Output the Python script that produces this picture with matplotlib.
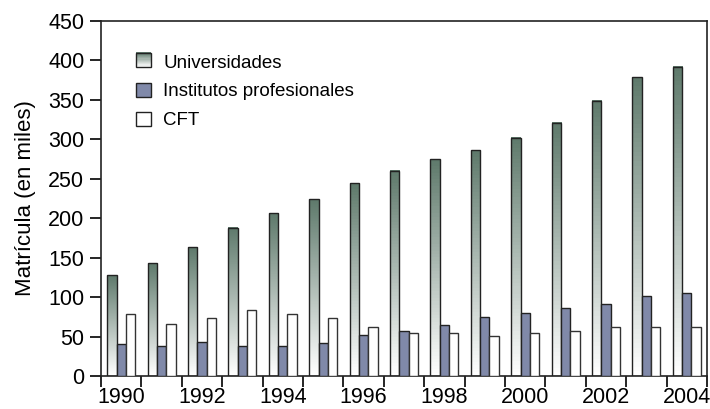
import numpy as np
import matplotlib
matplotlib.use("Agg")
import matplotlib.pyplot as plt
from matplotlib.colors import LinearSegmentedColormap
from matplotlib.patches import Rectangle
from matplotlib.legend_handler import HandlerBase

years = list(range(1990, 2005))
universidades = [128, 143, 163, 188, 206, 224, 244, 260, 275, 286, 302, 321, 349, 379, 392]
institutos = [40, 38, 43, 38, 38, 42, 52, 57, 65, 75, 80, 86, 91, 102, 105]
cft = [78, 66, 74, 84, 78, 73, 62, 54, 54, 51, 54, 57, 62, 62, 62]
series_names = ["Universidades", "Institutos profesionales", "CFT"]

plt.rcParams["font.family"] = ["Liberation Sans", "DejaVu Sans"]

UNI_TOP = "#5f7a6c"
INST_COL = "#8089a9"
EDGE = "#222222"
grad = LinearSegmentedColormap.from_list("uni", ["#ffffff", UNI_TOP])


class GradientHandler(HandlerBase):
    # legend swatch: stacked strips from dark (top) to white (bottom)
    def create_artists(self, legend, orig, xd, yd, w, h, fontsize, trans):
        arts = []
        n = 12
        for i in range(n):
            c = grad((i + 0.5) / n)
            arts.append(Rectangle((xd, yd + h * i / n), w, h / n + 0.3,
                                  facecolor=c, edgecolor="none", transform=trans))
        arts.append(Rectangle((xd, yd), w, h, facecolor="none",
                              edgecolor=EDGE, lw=1, transform=trans))
        return arts


fig = plt.figure(figsize=(7.10, 4.09), dpi=100)
ax = fig.add_axes([0.1423, 0.0807, 0.8535, 0.868])

x = np.arange(len(years))
w = 0.23

# universidades: per-bar vertical gradient
for xi, v in zip(x - w, universidades):
    img = np.linspace(0, 1, 64).reshape(-1, 1)
    ax.imshow(img, cmap=grad, origin="lower", aspect="auto",
              extent=(xi - w / 2, xi + w / 2, 0, v), zorder=2)
ax.bar(x - w, universidades, w, facecolor="none", edgecolor=EDGE, lw=1, zorder=3)
ax.bar(x, institutos, w, color=INST_COL, edgecolor=EDGE, lw=1, zorder=3)
ax.bar(x + w, cft, w, color="white", edgecolor="#333333", lw=1, zorder=3)

ax.set_xlim(-0.5, len(years) - 0.5)
ax.set_ylim(0, 450)
ax.set_yticks(range(0, 451, 50))
ax.set_xticks(x[::2])
ax.set_xticklabels([str(y) for y in years[::2]])
ax.set_xticks(np.arange(-0.5, len(years)), minor=True)
ax.tick_params(axis="x", which="major", length=0, pad=8, labelsize=15.5)
ax.tick_params(axis="x", which="minor", length=8, width=1.2, direction="out")
ax.tick_params(axis="y", length=8, width=1.2, labelsize=15.5, pad=4)
for s in ax.spines.values():
    s.set_linewidth(1.2)
    s.set_color("#222222")
ax.set_ylabel("Matrícula (en miles)", fontsize=16, labelpad=9)

handles = [Rectangle((0, 0), 1, 1),
           Rectangle((0, 0), 1, 1, facecolor=INST_COL, edgecolor=EDGE, lw=1),
           Rectangle((0, 0), 1, 1, facecolor="white", edgecolor=EDGE, lw=1)]
ax.legend(handles, series_names, loc="upper left", bbox_to_anchor=(0.03, 0.955),
          frameon=False, fontsize=13.5, handlelength=0.8, handleheight=0.8,
          handletextpad=0.65, labelspacing=0.6,
          handler_map={handles[0]: GradientHandler()})

fig.savefig("out.png", dpi=100)
